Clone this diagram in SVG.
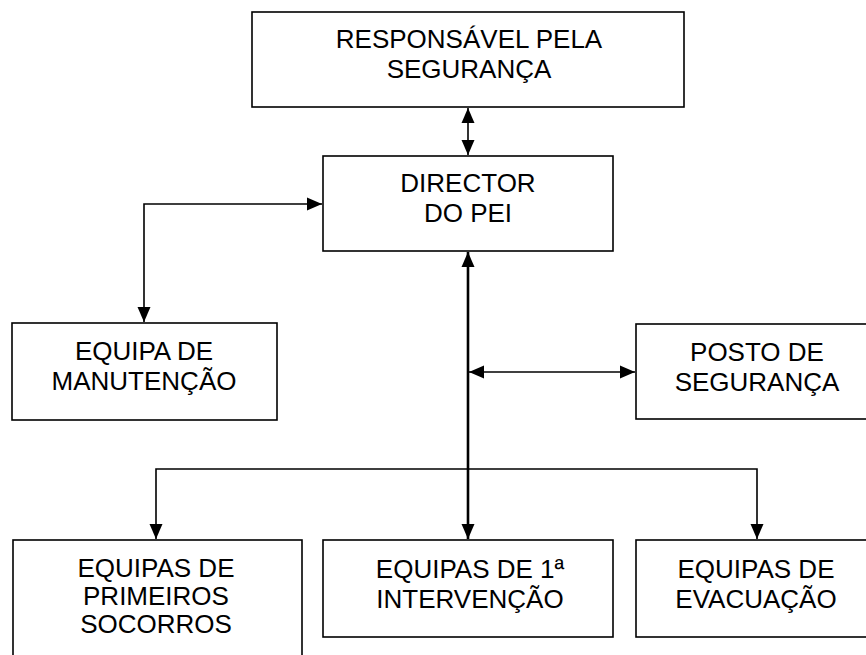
<svg xmlns="http://www.w3.org/2000/svg" width="866" height="655" viewBox="0 0 866 655">
<style>
.box{fill:#fff;stroke:#000;stroke-width:1.6}
.t{font-family:"Liberation Sans",Arial,sans-serif;font-size:26px;fill:#000;text-anchor:middle}
.c{fill:none;stroke:#000;stroke-width:1.6}
.thick{stroke-width:2.6}
</style>
<defs>
<marker id="ah" markerUnits="userSpaceOnUse" markerWidth="15" markerHeight="15" viewBox="0 0 15 15" refX="15" refY="7.5" orient="auto-start-reverse">
<path d="M0,1 L15,7.5 L0,14 Z" fill="#000"/>
</marker>
</defs>
<rect width="866" height="655" fill="#fff"/>
<g id="connectors">
<line class="c" x1="468" y1="108" x2="468" y2="155" marker-start="url(#ah)" marker-end="url(#ah)"/>
<polyline class="c" points="144,322 144,204 322,204" marker-start="url(#ah)" marker-end="url(#ah)"/>
<line class="c thick" x1="468" y1="252" x2="468" y2="539" marker-start="url(#ah)" marker-end="url(#ah)"/>
<line class="c" x1="469" y1="372" x2="635" y2="372" marker-start="url(#ah)" marker-end="url(#ah)"/>
<polyline class="c" points="156,539 156,469 757,469 757,539" marker-start="url(#ah)" marker-end="url(#ah)"/>
</g>
<g id="responsavel">
<rect class="box" x="252" y="12" width="432" height="95"/>
<text class="t" x="469" y="48">RESPONSÁVEL PELA</text>
<text class="t" x="469" y="78">SEGURANÇA</text>
</g>
<g id="director">
<rect class="box" x="323" y="156" width="290" height="95"/>
<text class="t" x="468" y="192">DIRECTOR</text>
<text class="t" x="468" y="222">DO PEI</text>
</g>
<g id="manutencao">
<rect class="box" x="12" y="323" width="265" height="97"/>
<text class="t" x="144" y="360">EQUIPA DE</text>
<text class="t" x="144" y="390">MANUTENÇÃO</text>
</g>
<g id="posto">
<rect class="box" x="636" y="324" width="240" height="95"/>
<text class="t" x="757" y="361">POSTO DE</text>
<text class="t" x="757" y="391">SEGURANÇA</text>
</g>
<g id="primeiros-socorros">
<rect class="box" x="13" y="540" width="289" height="130"/>
<text class="t" x="156" y="577">EQUIPAS DE</text>
<text class="t" x="156" y="605">PRIMEIROS</text>
<text class="t" x="156" y="633">SOCORROS</text>
</g>
<g id="intervencao">
<rect class="box" x="323" y="540" width="290" height="97"/>
<text class="t" x="470" y="578">EQUIPAS DE 1ª</text>
<text class="t" x="470" y="608">INTERVENÇÃO</text>
</g>
<g id="evacuacao">
<rect class="box" x="636" y="540" width="240" height="97"/>
<text class="t" x="756" y="578">EQUIPAS DE</text>
<text class="t" x="756" y="608">EVACUAÇÃO</text>
</g>
</svg>
